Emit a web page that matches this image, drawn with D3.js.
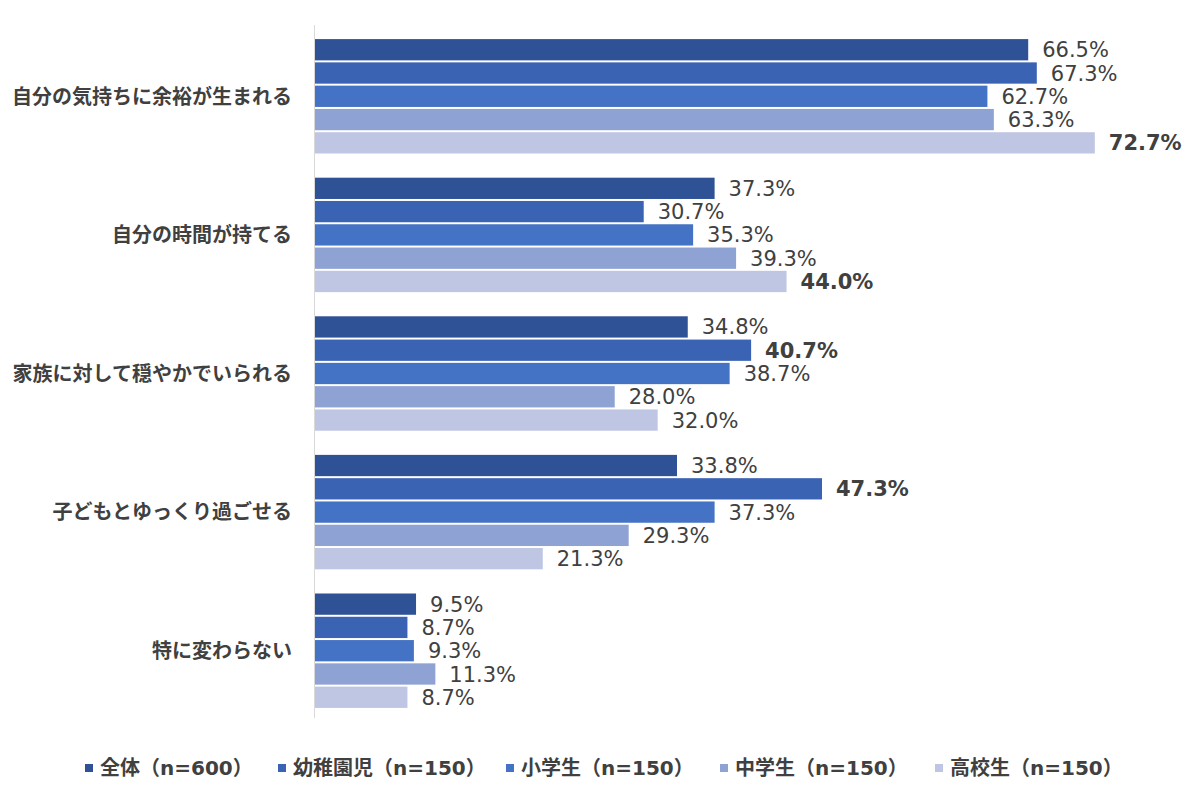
<!DOCTYPE html>
<html>
<head>
<meta charset="utf-8">
<script src="https://cdn.jsdelivr.net/npm/d3@7"></script>
<style>
  body { margin: 0; background: #fff; }
  svg text { font-family: "DejaVu Sans", "Noto Sans CJK JP", sans-serif; }
</style>
</head>
<body>
<div id="chart"></div>
<script>
// カテゴリとシリーズ
var categories = ["自分の気持ちに余裕が生まれる", "自分の時間が持てる", "家族に対して穏やかでいられる", "子どもとゆっくり過ごせる", "特に変わらない"];
var seriesNames = ["全体（n=600）", "幼稚園児（n=150）", "小学生（n=150）", "中学生（n=150）", "高校生（n=150）"];
var colors = ["#2F5296", "#3A63B4", "#4472C4", "#8FA2D4", "#BFC6E3"];

var zentai   = [66.5, 37.3, 34.8, 33.8, 9.5];
var youchien = [67.3, 30.7, 40.7, 47.3, 8.7];
var shogaku  = [62.7, 35.3, 38.7, 37.3, 9.3];
var chugaku  = [63.3, 39.3, 28.0, 29.3, 11.3];
var koko     = [72.7, 44.0, 32.0, 21.3, 8.7];
var values = [zentai, youchien, shogaku, chugaku, koko];

// 太字にするシリーズ（カテゴリごと、-1 はなし）
var boldSeries = [4, 4, 1, 1, -1];

var W = 1200, H = 802;
var margin = { top: 25, right: 60, bottom: 84, left: 314 };
var width = W - margin.left - margin.right,
    height = H - margin.top - margin.bottom;

var svg = d3.select("#chart").append("svg")
    .attr("width", W)
    .attr("height", H);

var g = svg.append("g")
    .attr("transform", "translate(" + margin.left + "," + margin.top + ")");

var x = d3.scaleLinear().domain([0, 100]).range([0, 1074]);
// バーは少し下寄せ
var y0 = d3.scaleBand().domain(categories).range([2, height + 2]).paddingInner(0.16).paddingOuter(0.08);
var y1 = d3.scaleBand().domain(d3.range(seriesNames.length)).range([0, y0.bandwidth()]).padding(0);

// 縦軸の線
g.append("line")
    .attr("x1", 0.5).attr("x2", 0.5)
    .attr("y1", 0).attr("y2", height)
    .attr("stroke", "#d9d9d9")
    .attr("stroke-width", 1);

var rows = [];
categories.forEach(function(c, ci) {
    values.forEach(function(v, si) {
        rows.push({ cat: c, s: si, v: v[ci], bold: boldSeries[ci] === si });
    });
});

g.selectAll("rect.bar")
    .data(rows)
    .enter().append("rect")
    .attr("class", "bar")
    .attr("x", 1)
    .attr("y", function(d) { return y0(d.cat) + y1(d.s) + 1; })
    .attr("width", function(d) { return x(d.v) - 1; })
    .attr("height", y1.bandwidth() - 2)
    .attr("fill", function(d) { return colors[d.s]; });

g.selectAll("text.val")
    .data(rows)
    .enter().append("text")
    .attr("class", "val")
    .attr("x", function(d) { return x(d.v) + 14; })
    .attr("y", function(d) { return y0(d.cat) + y1(d.s) + y1.bandwidth() / 2; })
    .attr("dy", "0.36em")
    .attr("font-size", 21)
    .attr("font-weight", function(d) { return d.bold ? "bold" : "normal"; })
    .attr("fill", "#404040")
    .text(function(d) { return d.v.toFixed(1) + "%"; });

// カテゴリラベル
g.selectAll("text.cat")
    .data(categories)
    .enter().append("text")
    .attr("class", "cat")
    .attr("x", -22)
    .attr("y", function(d) { return y0(d) + y0.bandwidth() / 2; })
    .attr("dy", "0.36em")
    .attr("text-anchor", "end")
    .attr("font-size", 20)
    .attr("font-weight", "bold")
    .attr("fill", "#404040")
    .text(function(d) { return d; });

// 凡例
var legendX = [85, 278, 506, 720, 935];
var legend = svg.append("g").attr("transform", "translate(0,768)");
var items = legend.selectAll("g")
    .data(seriesNames)
    .enter().append("g")
    .attr("transform", function(d, i) { return "translate(" + legendX[i] + ",0)"; });
items.append("rect")
    .attr("x", 0).attr("y", -4)
    .attr("width", 8).attr("height", 8)
    .attr("fill", function(d, i) { return colors[i]; });
items.append("text")
    .attr("x", 15)
    .attr("y", 0)
    .attr("dy", "0.36em")
    .attr("font-size", 20)
    .attr("font-weight", "bold")
    .attr("fill", "#404040")
    .text(function(d) { return d; });
</script>
</body>
</html>
